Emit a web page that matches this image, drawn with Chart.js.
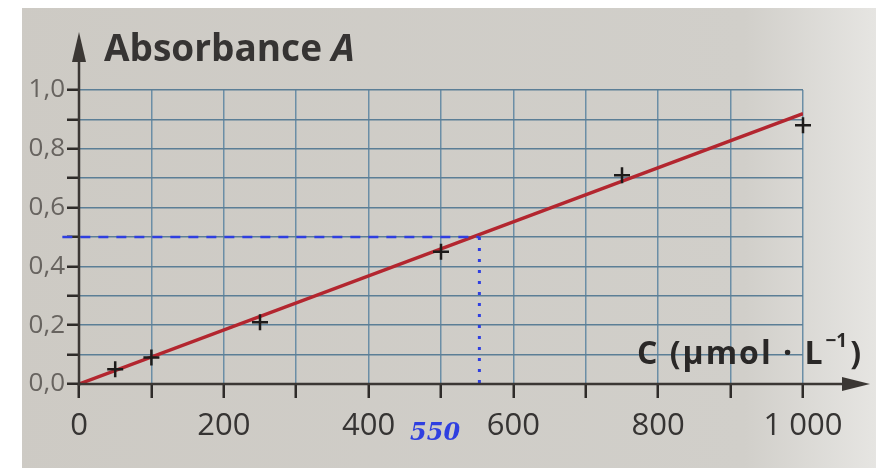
<!DOCTYPE html>
<html>
<head>
<meta charset="utf-8">
<script src="https://cdn.jsdelivr.net/npm/chart.js@4.4.1/dist/chart.umd.min.js"></script>
<style>
  html, body { margin: 0; padding: 0; background: #ffffff; }
  #wrap { width: 876px; height: 468px; }
</style>
</head>
<body>
<div id="wrap"><canvas id="absChart" width="876" height="468"></canvas></div>
<script>
// measured points (concentration in µmol/L, absorbance)
const concPoints = [50, 100, 250, 500, 750, 1000];
const absPoints = [0.05, 0.09, 0.21, 0.45, 0.71, 0.88];

// fitted straight line
const fitConc = [0, 1000];
const fitAbs = [0, 0.92];

// hand-drawn reading on the graph
const readAbs = 0.5;
const readConc = 553;
const readLabel = '550';

const toXY = (xs, ys) => xs.map((x, i) => ({ x: x, y: ys[i] }));

// background, arrows and axis titles
const decorPlugin = {
    id: 'decor',
    beforeDraw(chart) {
        const ctx = chart.ctx;
        ctx.save();
        const g = ctx.createLinearGradient(0, 0, 876, 0);
        g.addColorStop(0, '#cdcac4');
        g.addColorStop(0.85, '#d1cfca');
        g.addColorStop(1, '#e6e5e2');
        ctx.fillStyle = g;
        ctx.fillRect(22, 8, 876, 468);
        ctx.restore();
    },
    afterDraw(chart) {
        const ctx = chart.ctx;
        const x = chart.scales.x, y = chart.scales.y;
        const x0 = x.getPixelForValue(0), y0 = y.getPixelForValue(0);
        ctx.save();
        ctx.strokeStyle = '#3b3734';
        ctx.fillStyle = '#3b3734';
        ctx.lineWidth = 2.5;
        // vertical axis + arrow
        ctx.beginPath();
        ctx.moveTo(x0, y0 + 2);
        ctx.lineTo(x0, 58);
        ctx.stroke();
        ctx.beginPath();
        ctx.moveTo(x0, 32);
        ctx.lineTo(x0 - 7, 62);
        ctx.lineTo(x0 + 7, 62);
        ctx.closePath();
        ctx.fill();
        // horizontal axis + arrow
        ctx.beginPath();
        ctx.moveTo(x0 - 1, y0);
        ctx.lineTo(846, y0);
        ctx.stroke();
        ctx.beginPath();
        ctx.moveTo(870, y0);
        ctx.lineTo(842, y0 - 7);
        ctx.lineTo(842, y0 + 7);
        ctx.closePath();
        ctx.fill();

        // y title
        ctx.fillStyle = '#363433';
        ctx.textBaseline = 'alphabetic';
        ctx.font = 'bold 37px "Open Sans"';
        ctx.fillText('Absorbance ', 104, 61);
        const w = ctx.measureText('Absorbance ').width;
        ctx.font = 'italic bold 37px "Open Sans"';
        ctx.fillText('A', 104 + w, 61);

        // x title
        ctx.fillStyle = '#2a2827';
        ctx.letterSpacing = '2px';
        ctx.font = 'bold 32px "Open Sans"';
        const main = 'C (µmol · L';
        let tx = 637;
        ctx.fillText(main, tx, 364);
        tx += ctx.measureText(main).width;
        ctx.letterSpacing = '0px';
        ctx.font = 'bold 19px "Open Sans"';
        ctx.fillText('−1', tx + 1, 347);
        tx += ctx.measureText('−1').width + 4;
        ctx.font = 'bold 32px "Open Sans"';
        ctx.fillText(')', tx, 364);

        // handwritten value
        ctx.fillStyle = '#2f3fe0';
        ctx.font = 'italic bold 24px "DejaVu Serif"';
        ctx.fillText(readLabel, 410, 440);
        ctx.restore();
    }
};

const ctx = document.getElementById('absChart').getContext('2d');
new Chart(ctx, {
    type: 'scatter',
    data: {
        datasets: [
            {
                label: 'droite',
                data: toXY(fitConc, fitAbs),
                showLine: true,
                borderColor: '#b3262f',
                borderWidth: 3.5,
                pointRadius: 0,
                order: 2
            },
            {
                label: 'mesures',
                data: toXY(concPoints, absPoints),
                pointStyle: 'cross',
                pointRadius: 8,
                borderColor: '#1d1b1a',
                borderWidth: 2.5,
                clip: false,
                order: 1
            },
            {
                label: 'lecture A',
                data: [{ x: -23, y: readAbs }, { x: readConc, y: readAbs }],
                showLine: true,
                borderColor: '#2f3fe0',
                borderWidth: 2.5,
                borderDash: [10, 8],
                pointRadius: 0,
                clip: false,
                order: 0
            },
            {
                label: 'lecture C',
                data: [{ x: readConc, y: readAbs }, { x: readConc, y: 0 }],
                showLine: true,
                borderColor: '#2f3fe0',
                borderWidth: 3,
                borderDash: [3, 8],
                pointRadius: 0,
                clip: false,
                order: 0
            }
        ]
    },
    options: {
        responsive: false,
        animation: false,
        layout: { padding: { left: 0, right: 73, top: 90, bottom: 0 } },
        plugins: { legend: { display: false }, tooltip: { enabled: false } },
        scales: {
            x: {
                type: 'linear',
                min: 0,
                max: 1000,
                afterFit: s => { s.height = 84; },
                border: { display: false },
                grid: { color: '#6b8ea6', lineWidth: 1.5, tickLength: 14, tickColor: '#2e2b29', tickWidth: 2.5 },
                ticks: {
                    stepSize: 100,
                    autoSkip: false,
                    maxRotation: 0,
                    color: '#363433',
                    padding: 10,
                    font: { family: 'Open Sans', size: 31 },
                    callback: v => (v % 200 === 0 ? (v === 1000 ? '1 000' : String(v)) : '')
                }
            },
            y: {
                type: 'linear',
                min: 0,
                max: 1,
                afterFit: s => { s.width = 79; },
                border: { display: false },
                grid: { color: '#5b7e96', lineWidth: 1.5, tickLength: 12, tickColor: '#2e2b29', tickWidth: 2.5 },
                ticks: {
                    stepSize: 0.1,
                    autoSkip: false,
                    color: '#67635f',
                    padding: 2,
                    font: { family: 'Open Sans', size: 26 },
                    callback: v => (Math.round(v * 10) % 2 === 0 ? v.toFixed(1).replace('.', ',') : '')
                }
            }
        }
    },
    plugins: [decorPlugin]
});
</script>
</body>
</html>
